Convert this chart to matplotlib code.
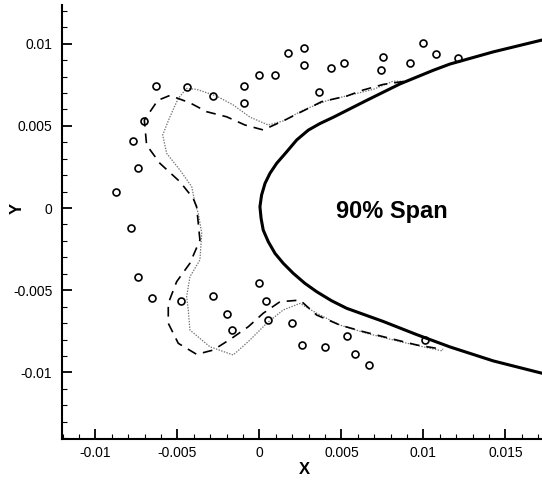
import matplotlib
matplotlib.use("Agg")
import matplotlib.pyplot as plt
from matplotlib.ticker import MultipleLocator

plt.rcParams['font.family'] = ['Liberation Sans', 'DejaVu Sans']
plt.rcParams['lines.scale_dashes'] = False

# blade section near the leading edge (upper surface -> LE -> lower surface)
airfoil_x = [0.01723, 0.01426, 0.01162, 0.0106, 0.00857, 0.00654, 0.0045, 0.00369,
             0.00298, 0.00227, 0.00166, 0.00105, 0.00064, 0.00034, 0.00013, 0.00003,
             0.0001, 0.00023, 0.00054, 0.00095, 0.00145, 0.00206, 0.00277, 0.00349,
             0.0044, 0.00532, 0.00755, 0.00959, 0.01162, 0.01426, 0.01723]
airfoil_y = [0.01022, 0.0095, 0.00876, 0.00838, 0.00755, 0.00655, 0.00552, 0.00514,
             0.00474, 0.00414, 0.00342, 0.00272, 0.00211, 0.0015, 0.00079, 0.00008,
             -0.00063, -0.00134, -0.00205, -0.00276, -0.00336, -0.00397, -0.00458, -0.00509,
             -0.00564, -0.0061, -0.0069, -0.0077, -0.00845, -0.0093, -0.01005]

# predicted ice shape, case 1 (dashed)
dash_x = [0.0088, 0.00755, 0.00633, 0.00532, 0.00379, 0.00277, 0.00155, 0.00023,
          -0.00088, -0.002, -0.00322, -0.00424, -0.00546, -0.0062, -0.00702, -0.00688,
          -0.00607, -0.00485, -0.00404, -0.00383, -0.00363, -0.00424, -0.00505, -0.00556,
          -0.00556, -0.00495, -0.00383, -0.00282, -0.0017, -0.00068, 0.00023, 0.00125,
          0.00247, 0.00349, 0.00491, 0.00633, 0.00796, 0.00959, 0.0112]
dash_y = [0.0077, 0.00752, 0.00718, 0.00681, 0.00647, 0.00596, 0.00535, 0.00475,
          0.00505, 0.00555, 0.00586, 0.0064, 0.00685, 0.00655, 0.00535, 0.00383,
          0.00272, 0.0016, 0.00059, 0.00008, -0.00195, -0.00336, -0.00448, -0.0058,
          -0.00701, -0.00823, -0.0089, -0.00864, -0.00793, -0.00722, -0.0064, -0.0057,
          -0.0056, -0.00651, -0.00712, -0.00752, -0.00793, -0.00833, -0.0086]

# predicted ice shape, case 2 (dotted)
dot_x = [0.0088, 0.00816, 0.00694, 0.00552, 0.0041, 0.00267, 0.00145, 0.00054,
         -0.00058, -0.0016, -0.00261, -0.00383, -0.00444, -0.00495, -0.00546, -0.0059,
         -0.00566, -0.00485, -0.00413, -0.00393, -0.00373, -0.00352, -0.00363, -0.00424,
         -0.00444, -0.00434, -0.00424, -0.00302, -0.0016, -0.00058, 0.00044, 0.00145,
         0.00247, 0.00349, 0.00491, 0.00654, 0.00857, 0.0104, 0.0112]
dot_y = [0.0077, 0.00772, 0.00722, 0.00687, 0.00653, 0.00596, 0.0053, 0.00505,
         0.00553, 0.00627, 0.00681, 0.00722, 0.00728, 0.00667, 0.00555, 0.00444,
         0.00333, 0.00231, 0.0013, 0.00029, -0.00032, -0.00154, -0.00316, -0.00418,
         -0.0054, -0.0062, -0.00742, -0.00844, -0.00894, -0.00803, -0.00701, -0.0062,
         -0.0058, -0.0064, -0.00712, -0.00762, -0.00813, -0.00853, -0.0087]

# measured ice points
exp_x = [-0.00631, -0.00444, -0.00282, -0.00095, -0.00095, -0.00001, 0.00095, -0.00702,
         -0.0077, -0.00743, -0.00877, -0.00782, -0.00743, -0.00654, -0.00479, -0.00285,
         -0.00196, -0.00168, -0.00005, 0.00038, 0.0005, 0.00198, 0.00261, 0.004,
         0.00532, 0.00584, 0.00666, 0.01007, 0.00176, 0.00271, 0.00271, 0.00434,
         0.00515, 0.00365, 0.00751, 0.00743, 0.00918, 0.00997, 0.01078, 0.01212]
exp_y = [0.00744, 0.00734, 0.00681, 0.00744, 0.00637, 0.00811, 0.00811, 0.00531,
         0.00409, 0.00245, 0.00095, -0.00122, -0.00418, -0.00549, -0.00564, -0.00535,
         -0.00645, -0.0074, -0.00454, -0.00564, -0.00681, -0.007, -0.00833, -0.00847,
         -0.00779, -0.0089, -0.00955, -0.00801, 0.00945, 0.00973, 0.00868, 0.00853,
         0.0088, 0.00706, 0.0092, 0.00839, 0.0088, 0.01002, 0.00935, 0.0091]

fig = plt.figure(figsize=(5.42, 4.82), dpi=100)
ax = fig.add_axes([0.1144, 0.0892, 0.8856, 0.9004])

ax.plot(dot_x, dot_y, color='0.45', lw=0.9, linestyle=(0, (1.0, 1.0)))
ax.plot(dash_x, dash_y, color='black', lw=1.2, linestyle=(0, (7.0, 5.0)))
ax.plot(airfoil_x, airfoil_y, color='black', lw=2.2, solid_joinstyle='round')
ax.plot(exp_x, exp_y, linestyle='none', marker='o', ms=5, mfc='none',
        mec='black', mew=1.2)

ax.text(0.0081, -0.0002, '90% Span', fontsize=17, fontweight='bold',
        ha='center', va='center')

ax.set_xlim(-0.01204, 0.01723)
ax.set_ylim(-0.01405, 0.01235)

ax.xaxis.set_minor_locator(MultipleLocator(0.001))
ax.yaxis.set_minor_locator(MultipleLocator(0.001))
ax.set_xticks([-0.01, -0.005, 0, 0.005, 0.01, 0.015])
ax.set_xticklabels(['-0.01', '-0.005', '0', '0.005', '0.01', '0.015'])
ax.set_yticks([-0.01, -0.005, 0, 0.005, 0.01])
ax.set_yticklabels(['-0.01', '-0.005', '0', '0.005', '0.01'])

for side in ['top', 'right']:
    ax.spines[side].set_visible(False)
for side in ['left', 'bottom']:
    ax.spines[side].set_linewidth(1.5)

ax.tick_params(which='major', direction='in', length=7, width=1.3,
               labelsize=10, color='black')
ax.tick_params(which='minor', direction='in', length=3.5, width=0.8)
ax.tick_params(axis='y', which='major', pad=7)
ax.tick_params(axis='x', which='major', pad=5)

ax.set_xlabel('X', fontsize=12, fontweight='bold')
ax.set_ylabel('Y', fontsize=12, fontweight='bold')
ax.xaxis.set_label_coords(0.506, -0.053)
ax.yaxis.set_label_coords(-0.078, 0.532)

fig.savefig('out.png', dpi=100)
